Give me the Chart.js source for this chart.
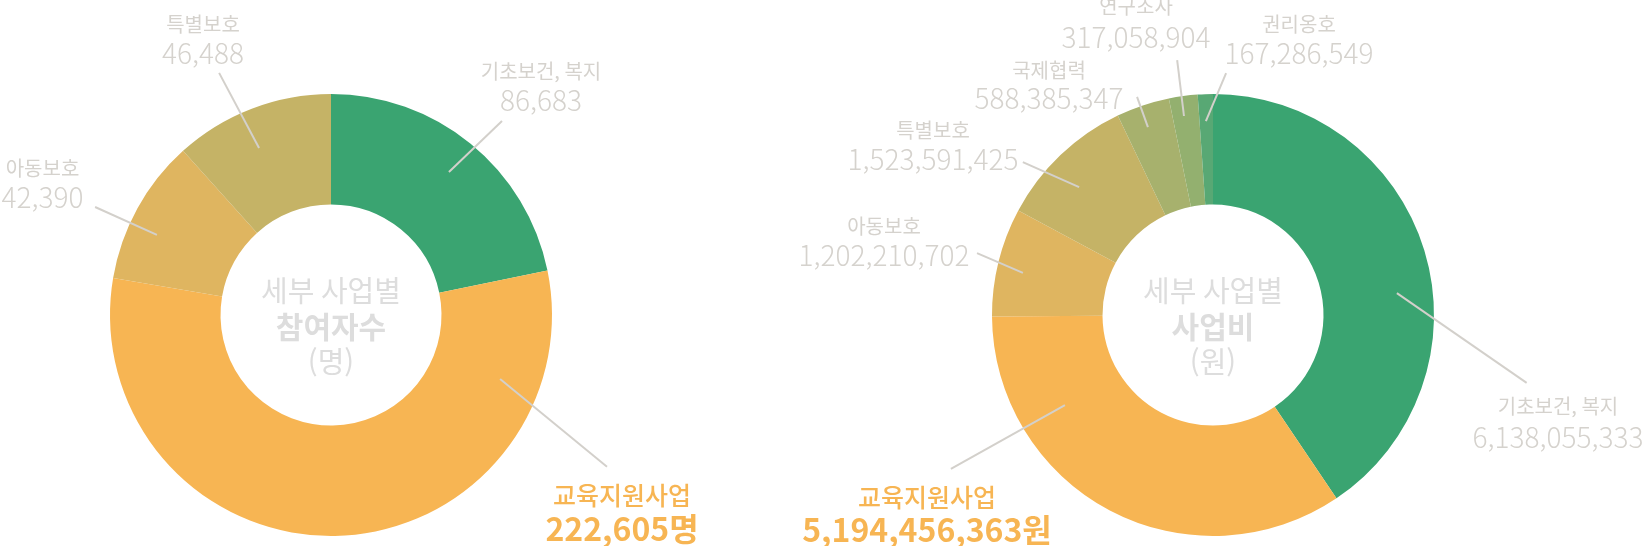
<!DOCTYPE html>
<html lang="ko">
<head>
<meta charset="utf-8">
<title>세부 사업별 참여자수 / 사업비</title>
<script src="https://cdn.jsdelivr.net/npm/chart.js@4.4.1/dist/chart.umd.min.js"></script>
<style>
  html, body { margin: 0; padding: 0; background: #ffffff; }
  #wrap { position: relative; width: 1642px; height: 546px; overflow: hidden; }
  canvas { position: absolute; top: 0; left: 0; }
</style>
</head>
<body>
<div id="wrap">
  <canvas id="leftChart" width="1642" height="546"></canvas>
  <canvas id="rightChart" width="1642" height="546"></canvas>
</div>
<script>
// ---------- data ----------
const participantCategories = ['기초보건, 복지', '교육지원사업', '아동보호', '특별보호'];
const participantValues = [86683, 222605, 42390, 46488];
const participantUnit = '명';
const participantCenterTitle = ['세부 사업별', '참여자수', '(명)'];

const budgetCategories = ['기초보건, 복지', '교육지원사업', '아동보호', '특별보호', '국제협력', '연구조사', '권리옹호'];
const budgetValues = [6138055333, 5194456363, 1202210702, 1523591425, 588385347, 317058904, 167286549];
const budgetUnit = '원';
const budgetCenterTitle = ['세부 사업별', '사업비', '(원)'];

const highlightCategory = '교육지원사업';

// ---------- styles ----------
const categoryColors = {
  '기초보건, 복지': '#3aa471',
  '교육지원사업': '#f7b553',
  '아동보호': '#dfb560',
  '특별보호': '#c5b366',
  '국제협력': '#a7b16d',
  '연구조사': '#93b06f',
  '권리옹호': '#58a874'
};
const FONT = '"Noto Sans CJK KR", "Noto Sans", sans-serif';
const LABEL_GREY = '#d5d2cd';
const LINE_GREY = '#d3d0cb';
const CENTER_GREY = '#dddddd';
const HIGHLIGHT = '#f7b553';

// label placement: leader line [angle deg clockwise from top, fraction of outer radius],
// text anchor offsets from the doughnut centre (px)
const participantLayout = [
  { a1: 39.5,  f1: 0.839, a2: 41.4,  f2: 1.170, tx: 210,    ny: -244, vy: -215 },
  { a1: 110.7, f1: 0.818, a2: 118.8, f2: 1.425, tx: 291,    ny: 180,  vy: 214 },
  { a1: 294.7, f1: 0.867, a2: 294.6, f2: 1.174, tx: -288.5, ny: -147, vy: -118 },
  { a1: 336.7, f1: 0.823, a2: 335.2, f2: 1.207, tx: -128,   ny: -291, vy: -262 }
];
const budgetLayout = [
  { a1: 83.2,  f1: 0.838, a2: 102.2, f2: 1.452, tx: 345,  ny: 91,   vy: 122 },
  { a1: 238.7, f1: 0.784, a2: 239.6, f2: 1.375, tx: -286, ny: 182,  vy: 215 },
  { a1: 282.5, f1: 0.881, a2: 284.7, f2: 1.104, tx: -329, ny: -89,  vy: -60 },
  { a1: 313.7, f1: 0.838, a2: 308.8, f2: 1.104, tx: -280, ny: -185, vy: -156 },
  { a1: 340.9, f1: 0.900, a2: 340.8, f2: 1.045, tx: -164, ny: -245, vy: -217 },
  { a1: 351.7, f1: 0.910, a2: 352.0, f2: 1.165, tx: -77,  ny: -309, vy: -278 },
  { a1: 357.9, f1: 0.878, a2: 363.1, f2: 1.096, tx: 86,   ny: -291, vy: -262 }
];

const sliceLabelPlugin = {
  id: 'sliceLabels',
  afterDatasetsDraw(chart, args, opts) {
    const ctx = chart.ctx;
    const meta = chart.getDatasetMeta(0);
    const labels = chart.data.labels;
    const values = chart.data.datasets[0].data;
    ctx.save();
    ctx.textAlign = 'center';
    ctx.textBaseline = 'middle';
    let cx = 0, cy = 0;
    meta.data.forEach((arc, i) => {
      const p = arc.getProps(['x', 'y', 'outerRadius'], true);
      cx = p.x; cy = p.y;
      const R = p.outerRadius;
      const L = opts.layout[i];
      const pt = (deg, f) => [p.x + Math.sin(deg * Math.PI / 180) * f * R,
                              p.y - Math.cos(deg * Math.PI / 180) * f * R];
      const s = pt(L.a1, L.f1), e = pt(L.a2, L.f2);
      ctx.strokeStyle = LINE_GREY;
      ctx.lineWidth = 2;
      ctx.beginPath();
      ctx.moveTo(s[0], s[1]);
      ctx.lineTo(e[0], e[1]);
      ctx.stroke();

      const tx = p.x + L.tx;
      const valueText = values[i].toLocaleString('en-US');
      if (labels[i] === highlightCategory) {
        ctx.fillStyle = HIGHLIGHT;
        ctx.font = '500 25px ' + FONT;
        ctx.fillText(labels[i], tx, p.y + L.ny);
        ctx.font = 'bold 32px ' + FONT;
        ctx.fillText(valueText + opts.unit, tx, p.y + L.vy);
      } else {
        ctx.fillStyle = LABEL_GREY;
        ctx.font = '20px ' + FONT;
        ctx.fillText(labels[i], tx, p.y + L.ny);
        ctx.font = '300 28px ' + FONT;
        ctx.fillText(valueText, tx, p.y + L.vy);
      }
    });
    // centre caption
    const t = opts.center;
    ctx.fillStyle = CENTER_GREY;
    ctx.font = '29px ' + FONT;
    ctx.fillText(t[0], cx, cy - 24);
    ctx.font = 'bold 30px ' + FONT;
    ctx.fillText(t[1], cx, cy + 12);
    ctx.font = '29px ' + FONT;
    ctx.fillText(t[2], cx, cy + 47);
    ctx.restore();
  }
};

function makeDoughnut(canvasId, categories, values, layout, unit, center, padding) {
  return new Chart(document.getElementById(canvasId), {
    type: 'doughnut',
    data: {
      labels: categories,
      datasets: [{
        data: values,
        backgroundColor: categories.map(c => categoryColors[c]),
        borderWidth: 0,
        hoverOffset: 0
      }]
    },
    options: {
      responsive: false,
      animation: false,
      events: [],
      cutout: '50%',
      layout: { padding: padding },
      plugins: {
        legend: { display: false },
        tooltip: { enabled: false },
        sliceLabels: { layout: layout, unit: unit, center: center }
      }
    },
    plugins: [sliceLabelPlugin]
  });
}

makeDoughnut('leftChart', participantCategories, participantValues, participantLayout,
  participantUnit, participantCenterTitle, { top: 94, bottom: 10, left: 110, right: 1090 });
makeDoughnut('rightChart', budgetCategories, budgetValues, budgetLayout,
  budgetUnit, budgetCenterTitle, { top: 94, bottom: 10, left: 992, right: 208 });
</script>
</body>
</html>
